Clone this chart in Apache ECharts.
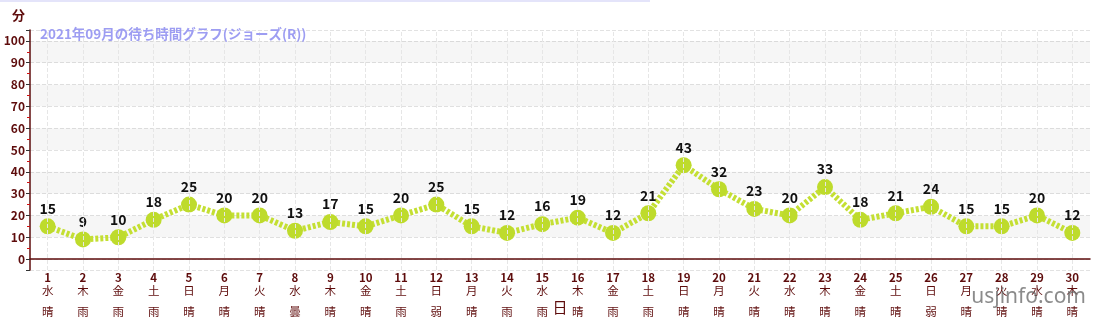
<!DOCTYPE html>
<html><head><meta charset="utf-8">
<script src="https://cdn.jsdelivr.net/npm/echarts@6/dist/echarts.min.js"></script>
<style>html,body{margin:0;padding:0;background:#fff}#c{width:1100px;height:320px}</style>
</head><body><div id="c"></div>
<script>
const days = ['1','2','3','4','5','6','7','8','9','10','11','12','13','14','15','16','17','18','19','20','21','22','23','24','25','26','27','28','29','30'];
const weekdays = ['水','木','金','土','日','月','火','水','木','金','土','日','月','火','水','木','金','土','日','月','火','水','木','金','土','日','月','火','水','木'];
const weather = ['晴','雨','雨','雨','晴','晴','晴','曇','晴','晴','雨','弱雨','晴','雨','雨','晴','雨','雨','晴','晴','晴','晴','晴','晴','晴','弱雨','晴','晴','晴','晴'];
const waits = [15,9,10,18,25,20,20,13,17,15,20,25,15,12,16,19,12,21,43,32,23,20,33,18,21,24,15,15,20,12];
const yTicks = [0,10,20,30,40,50,60,70,80,90,100];
const grayBands = [[10,20],[30,40],[50,60],[70,80],[90,100]];
const titleText = '2021年09月の待ち時間グラフ(ジョーズ(R))';

const maroon = '#5e0c0c';
const font = '"Noto Sans CJK JP","Noto Sans",sans-serif';
const chart = echarts.init(document.getElementById('c'), null, {renderer:'canvas'});
chart.setOption({
  animation: false,
  textStyle: {fontFamily: font},
  title: {text: titleText, left: 35, top: 22, textStyle: {fontSize: 13.5, fontWeight: 'bold', color: '#9d9df2', fontFamily: font}},
  graphic: [
    {type:'rect', left:0, top:0, shape:{width:650, height:2}, style:{fill:'#e4e4fa'}},
    {type:'text', right:14, top:287, z:100, style:{text:'usjinfo.com', fontSize:21, fontFamily:'"Noto Sans",sans-serif', fill:'rgba(100,100,100,0.75)'}}
  ],
  grid: {left: 30, right: 10, top: 30, bottom: 50, containLabel: false, outerBoundsMode: 'none'},
  xAxis: {
    type: 'category',
    data: days,
    boundaryGap: true,
    name: '日', nameLocation: 'middle', nameGap: 30, nameMoveOverlap: false,
    nameTextStyle: {fontSize: 15, color: maroon, fontFamily: font},
    axisLine: {lineStyle: {color: maroon, width: 1.5}},
    axisTick: {alignWithLabel: true, length: 4, lineStyle: {color: '#777'}},
    splitLine: {show: false},
    axisLabel: {
      interval: 0, margin: 1,
      formatter: function (v, i) {
        const w = weather[i].split('').map(c => '{t|' + c + '}').join('\n');
        return '{d|' + v + '}\n{w|' + weekdays[i] + '}\n{g| }\n' + w;
      },
      rich: {
        d: {fontSize: 11.5, lineHeight: 13, color: maroon, fontWeight: 'bold', fontFamily: font},
        w: {fontSize: 11.5, lineHeight: 13, color: maroon, fontFamily: font},
        g: {fontSize: 8, lineHeight: 8},
        t: {fontSize: 11.5, lineHeight: 13, color: maroon, fontFamily: font}
      }
    }
  },
  yAxis: {
    type: 'value', min: -5, max: 105, splitNumber: 11,
    name: '分', nameLocation: 'end', nameGap: 8,
    nameTextStyle: {fontSize: 13, fontWeight: 'bold', color: maroon, align: 'right', padding: [0, 5, 0, 0], fontFamily: font},
    axisLine: {show: true, lineStyle: {color: maroon, width: 1.5}},
    axisTick: {show: true, length: 4, lineStyle: {color: '#333'}},
    minorTick: {show: true, splitNumber: 2, length: 3, lineStyle: {color: '#d01010'}},
    splitLine: {show: true, lineStyle: {color: '#e2e2e2', type: 'dashed'}},
    axisLabel: {
      fontSize: 12, fontWeight: 'bold', color: maroon, margin: 5,
      formatter: function (v) { return yTicks.indexOf(v) >= 0 ? String(v) : ''; }
    }
  },
  series: [{
    type: 'line',
    data: waits,
    symbol: 'circle', symbolSize: 16,
    itemStyle: {color: '#bedb2c'},
    lineStyle: {color: '#c4df33', width: 6, type: [3, 2]},
    label: {show: true, position: 'top', distance: 3, fontSize: 14, fontWeight: 'bold', color: '#111', fontFamily: font},
    markArea: {
      silent: true,
      itemStyle: {color: 'rgba(0,0,0,0.035)'},
      data: grayBands.map(b => [{yAxis: b[0]}, {yAxis: b[1]}])
    },
    markLine: {
      silent: true, symbol: 'none', label: {show: false},
      lineStyle: {color: '#e6e6e6', type: 'dashed', width: 1},
      data: days.map(d => ({xAxis: d}))
    }
  }]
});
</script></body></html>
